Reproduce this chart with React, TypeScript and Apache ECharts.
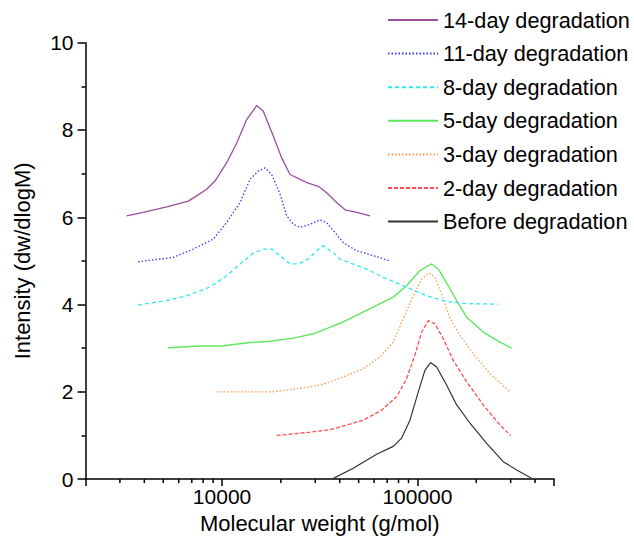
import React, { useEffect, useRef } from "react";
import * as echarts from "echarts";

const seriesNames = [
  "14-day degradation",
  "11-day degradation",
  "8-day degradation",
  "5-day degradation",
  "3-day degradation",
  "2-day degradation",
  "Before degradation",
];

const day14: number[][] = [
  [3250, 6.03], [3950, 6.11], [5210, 6.24], [6720, 6.37], [7410, 6.49], [8340, 6.64],
  [9200, 6.83], [10560, 7.25], [11890, 7.7], [13370, 8.24], [15040, 8.56], [16260, 8.43],
  [18290, 7.86], [20190, 7.36], [22280, 6.98], [25070, 6.87], [27630, 6.78], [31060, 6.71],
  [34300, 6.56], [38600, 6.34], [42600, 6.17], [48900, 6.11], [57200, 6.03],
];
const day11: number[][] = [
  [3720, 4.98], [5620, 5.08], [7120, 5.27], [9020, 5.5], [10560, 5.88], [12360, 6.34],
  [13900, 6.87], [15330, 7.06], [16580, 7.13], [17950, 6.98], [19800, 6.53], [21430, 6.03],
  [23150, 5.84], [25050, 5.77], [28190, 5.84], [31700, 5.94], [34300, 5.88], [37800, 5.65],
  [41700, 5.42], [48900, 5.23], [59400, 5.12], [72300, 5.0],
];
const day8: number[][] = [
  [3720, 3.99], [5210, 4.09], [6590, 4.2], [8670, 4.4], [10560, 4.66], [12360, 4.93],
  [14450, 5.18], [16260, 5.27], [17950, 5.27], [19800, 5.12], [22280, 4.93], [24550, 4.93],
  [27630, 5.04], [30470, 5.23], [32700, 5.35], [37100, 5.19], [40100, 5.04], [54900, 4.81],
  [69500, 4.59], [88000, 4.4], [111500, 4.2], [141200, 4.07], [178700, 4.02], [259500, 4.01],
];
const day5: number[][] = [
  [5290, 3.01], [7710, 3.05], [9950, 3.05], [13900, 3.13], [17580, 3.16], [23150, 3.23],
  [29300, 3.33], [34300, 3.45], [41700, 3.6], [50800, 3.79], [61800, 3.98], [75200, 4.17],
  [88000, 4.43], [103000, 4.78], [118300, 4.93], [128000, 4.81], [143900, 4.43], [161900, 4.02],
  [178700, 3.71], [217300, 3.37], [264400, 3.14], [303500, 3.0],
];
const day3: number[][] = [
  [9380, 2.0], [18290, 2.0], [25050, 2.08], [32900, 2.17], [41700, 2.34], [52800, 2.53],
  [64300, 2.8], [75200, 3.14], [84500, 3.67], [95200, 4.2], [105100, 4.59], [114900, 4.72],
  [122900, 4.62], [133000, 4.24], [145700, 3.71], [165300, 3.29], [193200, 2.87], [235000, 2.42],
  [297300, 2.0],
];
const day2: number[][] = [
  [19010, 1.0], [25050, 1.05], [35600, 1.13], [43500, 1.24], [52800, 1.35], [65600, 1.58],
  [78300, 1.89], [88000, 2.3], [97000, 2.84], [105100, 3.37], [113600, 3.63], [122900, 3.56],
  [135500, 3.22], [152500, 2.72], [178700, 2.23], [217300, 1.7], [264400, 1.24], [300000, 1.0],
];
const before: number[][] = [
  [36500, 0.0], [46900, 0.25], [61800, 0.57], [75200, 0.75], [83000, 0.94], [91600, 1.35],
  [101000, 2.0], [109200, 2.49], [116800, 2.67], [125400, 2.57], [141200, 2.15], [158800, 1.7],
  [185800, 1.28], [226000, 0.82], [274800, 0.4], [322100, 0.21], [383700, 0.02],
];

const xMinorTicks = [3000, 4000, 5000, 6000, 7000, 8000, 9000, 20000, 30000, 40000, 50000, 60000, 70000, 80000, 90000, 200000, 300000, 400000];
const xLabelValues = [10000, 100000];

const FONT = "Liberation Sans, Arial, sans-serif";

export default function App() {
  const ref = useRef<HTMLDivElement>(null);
  useEffect(() => {
    if (!ref.current) return;
    const chart = echarts.init(ref.current, undefined, { renderer: "svg" });
    const datasets = [day14, day11, day8, day5, day3, day2, before];
    const colors = ["#9c4f9c", "#3a3aff", "#2ee8ee", "#5fe85f", "#ff9a50", "#ff4d4d", "#333333"];
    const types: any[] = ["solid", [1.5, 2], [4, 3], "solid", [1.5, 2], [4, 2], "solid"];
    const widths = [1.3, 1.3, 1.3, 1.4, 1.3, 1.3, 1.2];
    chart.setOption({
      animation: false,
      backgroundColor: "#fff",
      grid: { left: 85.5, right: 80, top: 42.7, bottom: 58 },
      legend: {
        orient: "vertical",
        left: 387,
        top: 8,
        padding: 0,
        itemWidth: 50,
        itemHeight: 14,
        itemGap: 9.6,
        data: seriesNames,
        itemStyle: { opacity: 0 },
        lineStyle: { width: 2 },
        textStyle: { fontFamily: FONT, fontSize: 21.7, color: "#000", lineHeight: 24 },
      },
      xAxis: {
        type: "log",
        logBase: 10,
        min: 2000,
        max: 500000,
        name: "Molecular weight (g/mol)",
        nameLocation: "middle",
        nameGap: 30,
        nameTextStyle: { fontFamily: FONT, fontSize: 22, color: "#000" },
        axisLine: { lineStyle: { color: "#000", width: 1.5 } },
        axisTick: { show: true, length: 7, lineStyle: { color: "#000", width: 1.5 } },
        axisLabel: {
          margin: 7,
          fontFamily: FONT,
          fontSize: 21,
          color: "#000",
          formatter: (v: number) => (xLabelValues.some((l) => Math.abs(l - v) / l < 1e-6) ? String(Math.round(v)) : ""),
        },
        splitLine: { show: false },
        minorTick: { show: false },
      },
      yAxis: {
        type: "value",
        min: 0,
        max: 10,
        interval: 2,
        name: "Intensity (dw/dlogM)",
        nameLocation: "middle",
        nameGap: 52,
        nameTextStyle: { fontFamily: FONT, fontSize: 22, color: "#000" },
        axisLine: { show: true, lineStyle: { color: "#000", width: 1.5 } },
        axisTick: { show: true, length: 8, lineStyle: { color: "#000", width: 1.5 } },
        minorTick: { show: true, splitNumber: 2, length: 4, lineStyle: { color: "#000", width: 1.5 } },
        axisLabel: { margin: 12, fontFamily: FONT, fontSize: 21, color: "#000" },
        splitLine: { show: false },
      },
      series: datasets.map((d, i) => ({
        name: seriesNames[i],
        type: "line",
        data: d,
        symbol: "none",
        showSymbol: false,
        smooth: false,
        z: 10 - i,
        lineStyle: { color: colors[i], width: widths[i], type: types[i] },
        itemStyle: { color: colors[i] },
      })),
    });
    const y0 = chart.convertToPixel({ yAxisIndex: 0 }, 0) as number;
    const graphics = xMinorTicks.map((v) => {
      const x = chart.convertToPixel({ xAxisIndex: 0 }, v) as number;
      return {
        type: "line",
        shape: { x1: x, y1: y0, x2: x, y2: y0 + 4 },
        style: { stroke: "#000", lineWidth: 1.5 },
        silent: true,
      };
    });
    chart.setOption({ graphic: graphics });
    return () => chart.dispose();
  }, []);
  return <div ref={ref} style={{ width: 634, height: 539, position: "absolute", left: 0, top: 0 }} />;
}
